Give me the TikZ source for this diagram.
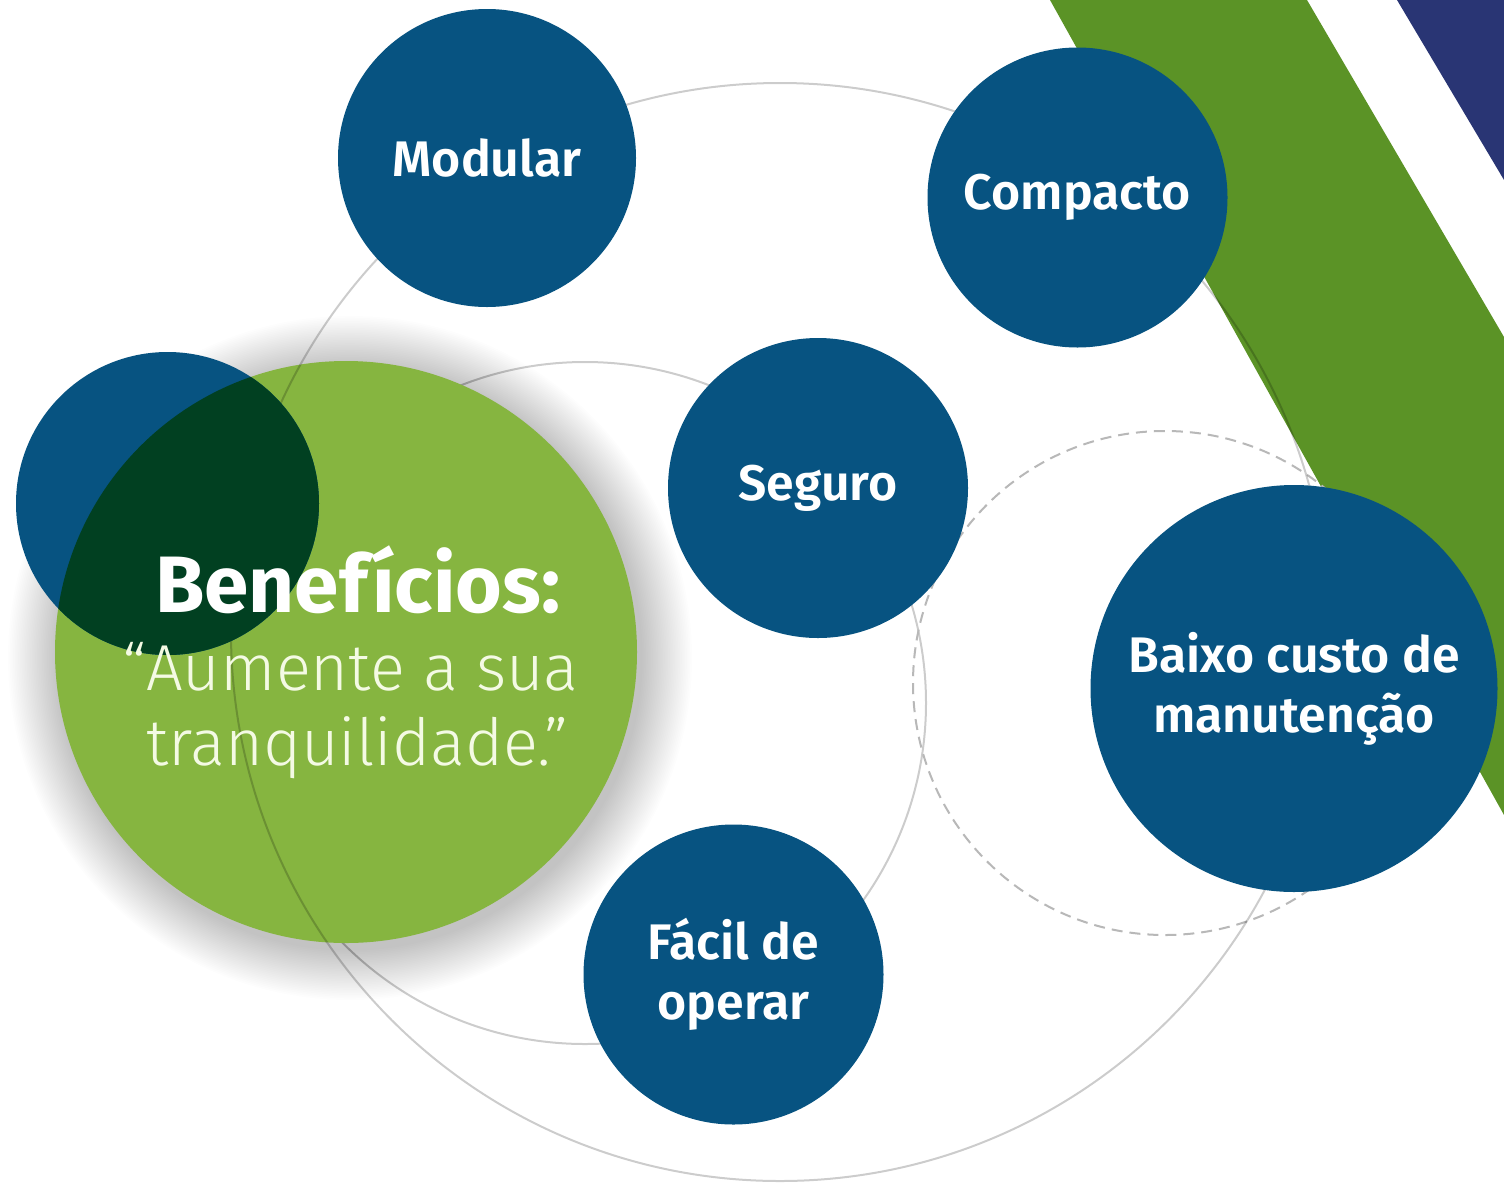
\documentclass[tikz,border=0pt]{standalone}
\usepackage{fontspec}
\setmainfont{Fira Sans}
\newfontfamily\semib{Fira Sans SemiBold}
\newfontfamily\lightf{Fira Sans Light}
\definecolor{cblue}{HTML}{075381}
\definecolor{cgreen}{HTML}{86B540}
\definecolor{cdark}{HTML}{014021}
\definecolor{bandgreen}{HTML}{5B9326}
\definecolor{bandnavy}{HTML}{293574}
\definecolor{ctext}{HTML}{F4FAE4}
\tikzset{
  bub/.style={circle, fill=cblue, text=white, inner sep=0pt, align=center,
    font=\semib\fontsize{50}{60}\selectfont},
  ring/.style={draw=black, draw opacity=0.2, line width=2pt},
  dashring/.style={draw=black!28, line width=2pt, dash pattern=on 11pt off 7pt},
}
\begin{document}
\begin{tikzpicture}[x=1pt,y=-1pt]
\fill[white] (0,0) rectangle (1504,1184);
\useasboundingbox (0,0) rectangle (1504,1184);
% diagonal bands
\fill[bandgreen] (1050,0) -- (1307,0) -- (1504,337) -- (1504,815) -- cycle;
\fill[bandnavy] (1397,0) -- (1504,0) -- (1504,180) -- cycle;
% rings (medium ring lies under the green circle)
\coordinate (bigc) at (780,632);
\coordinate (midc) at (585,703);
\coordinate (dashc) at (1165,683);
\draw[ring] (midc) circle[radius=341pt];
\draw[dashring] (dashc) circle[radius=252pt];
% shadow of green circle
\foreach \i in {1,...,30}{
  \fill[black, opacity=0.0075] (350,658) circle[radius={291pt+\i*1.7pt}];
}
% green main circle
\node[circle, fill=cgreen, minimum size=582pt, inner sep=0pt] (main) at (346,652) {};
% big ring over the green circle
\draw[ring] (bigc) circle[radius=549pt];
% left blue circle + overlap
\node[circle, fill=cblue, minimum size=303pt, inner sep=0pt] (lblue) at (167.5,503.5) {};
\begin{scope}
  \clip (346,652) circle[radius=291pt];
  \fill[cdark] (167.5,503.5) circle[radius=151.5pt];
\end{scope}
% main text
\node[anchor=base west, text=white, inner sep=0pt,
  font=\bfseries\fontsize{80}{80}\selectfont] (ben) at (155,612) {Benefícios:};
\node[anchor=base west, text=ctext, inner sep=0pt,
  font=\lightf\fontsize{65}{65}\selectfont] (q1) at (146,690) {\llap{“}Aumente a sua};
\node[anchor=base west, text=ctext, inner sep=0pt,
  font=\lightf\fontsize{65}{65}\selectfont] (q2) at (146,765) {tranquilidade.”};
% blue bubbles
\node[bub, minimum size=298pt] (modular) at (487,158) {Modular};
\node[bub, minimum size=300pt] (compacto) at (1077.5,197.5) {Compacto};
\node[bub, minimum size=300pt] (seguro) at (818,488) {Seguro};
\node[bub, minimum size=407pt] (baixo) at (1294,688.5) {Baixo custo de\\manutenção};
\node[bub, minimum size=300pt] (facil) at (733.5,974.5) {Fácil de\\operar};
\end{tikzpicture}
\end{document}
